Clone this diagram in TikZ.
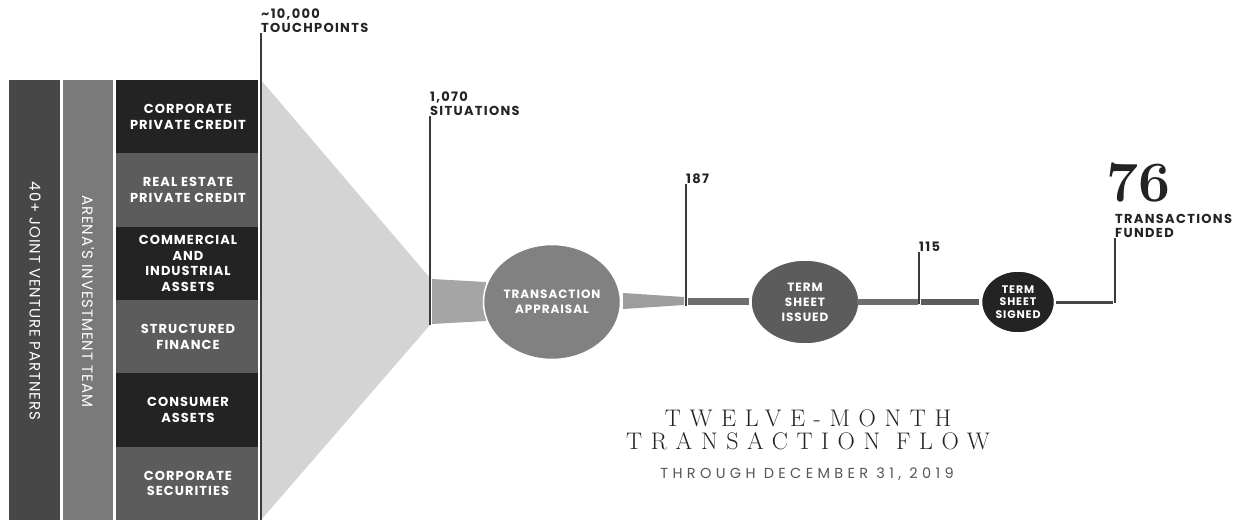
\documentclass[tikz,border=0pt]{standalone}
\usepackage{fontspec}
\setmainfont{Poppins}
\newfontfamily\spacedfont[LetterSpace=6]{Poppins}
\newfontfamily\labelfont[LetterSpace=8]{Poppins}
\newfontfamily\countfont[LetterSpace=10]{Poppins}
\newfontfamily\subfont[LetterSpace=30]{Poppins}
\newfontfamily\titlefont[LetterSpace=36]{Latin Modern Roman}
\newfontfamily\bignumfont{Latin Modern Roman}
\usetikzlibrary{shapes.geometric,positioning}

\definecolor{partnergray}{HTML}{474747}
\definecolor{teamgray}{HTML}{7A7A7A}
\definecolor{catdark}{HTML}{232323}
\definecolor{catmid}{HTML}{5C5C5C}
\definecolor{funnelgray}{HTML}{D4D4D4}
\definecolor{tapergray}{HTML}{A5A5A5}
\definecolor{markgray}{HTML}{3A3A3A}
\definecolor{subgray}{HTML}{555555}

\tikzset{
  catlabels/.style={font=\labelfont\bfseries\fontsize{13}{15.5}\selectfont, text=white, align=center},
  sidelabels/.style={font=\spacedfont\fontsize{15}{15}\selectfont, text=white, rotate=-90},
  countlabels/.style={font=\countfont\bfseries\fontsize{13}{14.5}\selectfont, anchor=south west,
                      inner sep=0pt, align=left, text=catdark},
  marker/.style={draw=markgray, line width=1.3pt},
  stage/.style={ellipse, draw=white, line width=1.5pt, text=white, align=center, inner sep=0pt,
                font=\labelfont\bfseries\fontsize{12}{15}\selectfont},
}

\begin{document}
\begin{tikzpicture}[
  x=1pt,
  y=-1pt,
]
\useasboundingbox (0,0) rectangle (1233,520);

% the two side columns
\fill [partnergray] (9,80) rectangle (60,520);
\fill [teamgray] (63,80) rectangle (113,520);
\node [sidelabels] (partners) at (35,301) {40+ JOINT VENTURE PARTNERS};
\node [sidelabels] (team) at (88,301) {ARENA'S INVESTMENT TEAM};

% the six business lines
\foreach [count=\i from 0] \c/\t in
                  {catdark/CORPORATE\\PRIVATE CREDIT,
                   catmid/REAL ESTATE\\PRIVATE CREDIT,
                   catdark/COMMERCIAL\\AND\\INDUSTRIAL\\ASSETS,
                   catmid/STRUCTURED\\FINANCE,
                   catdark/CONSUMER\\ASSETS,
                   catmid/CORPORATE\\SECURITIES}
  {
   \fill [\c] (116,80+73.33*\i) rectangle ++(142,73.33);
   \node [catlabels, name=cat-\i] at (188,80+73.33*\i+36.67) {\t};
  }

% funnel
\fill [funnelgray] (261,80) -- (430,278) -- (430,325) -- (261,520) -- cycle;
\fill [tapergray] (432,279) -- (486,282) -- (486,321) -- (432,324) -- cycle;
\fill [tapergray!95!black] (623,293) -- (684,297) -- (684,305) -- (623,309) -- cycle;

% stages
\node [stage, fill=teamgray!95!white, minimum width=137pt, minimum height=115pt]
      (appraisal) at (552,302) {TRANSACTION\\APPRAISAL};
\node [stage, fill=catmid, minimum width=108pt, minimum height=84pt]
      (issued) at (805,302) {TERM\\SHEET\\ISSUED};
\node [stage, fill=catdark, minimum width=73pt, minimum height=62pt,
       font=\labelfont\bfseries\fontsize{11}{12.5}\selectfont]
      (signed) at (1018,302) {TERM\\SHEET\\SIGNED};

% bars between stages
\fill [teamgray!90!black] (688,298) rectangle (749,305);
\fill [teamgray!110!white] (857,299) rectangle (918,304.5);
\fill [catmid] (921,299) rectangle (979,305);
\fill [partnergray] (1056,301) rectangle (1113,303.5);

% counts
\node [countlabels] (touch) at (261,33) {\textasciitilde10,000\\TOUCHPOINTS};
\coordinate (touch-foot) at (261,520);
\draw [marker] (touch.south west) -- (touch-foot);

\node [countlabels] (situations) at (430,116) {1,070\\SITUATIONS};
\coordinate (situations-foot) at (430,325);
\draw [marker] (situations.south west) -- (situations-foot);

\node [countlabels] (issued-count) at (686,184) {187};
\coordinate (issued-foot) at (686,306);
\draw [marker] (issued-count.south west) -- (issued-foot);

\node [countlabels] (signed-count) at (919,252) {115};
\coordinate (signed-foot) at (919,304);
\draw [marker] (signed-count.south west) -- (signed-foot);

\node [countlabels, font=\bignumfont\bfseries\fontsize{57}{57}\selectfont]
      (funded-count) at (1106,202) {76};
\node [countlabels] (funded) at (1115,238) {TRANSACTIONS\\FUNDED};
\coordinate (funded-foot) at (1115,303);
\draw [marker] (funded.south west) -- (funded-foot);

% title
\node [font=\titlefont\fontsize{24}{23.5}\selectfont, align=center, text=catdark]
      (title) at (808,430) {TWELVE-MONTH\\TRANSACTION FLOW};
\node [font=\subfont\fontsize{14.5}{15}\selectfont, text=subgray]
      (subtitle) at (807,474) {THROUGH DECEMBER 31, 2019};

\end{tikzpicture}
\end{document}
